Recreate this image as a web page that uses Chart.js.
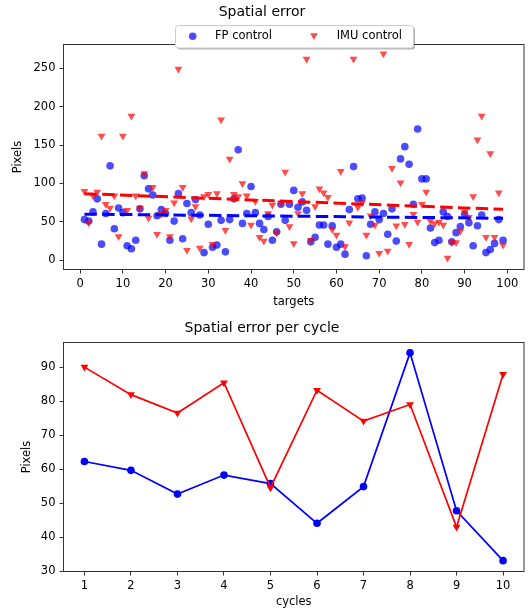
<!DOCTYPE html>
<html>
<head>
<meta charset="utf-8">
<script src="https://cdn.jsdelivr.net/npm/chart.js@4.4.0/dist/chart.umd.min.js"></script>
<style>
  html, body { margin: 0; padding: 0; background: #fff; }
  #wrap { position: relative; width: 531px; height: 608px; }
  #topChart { position: absolute; left: 0; top: 0; }
  #bottomChart { position: absolute; left: 0; top: 310px; }
</style>
</head>
<body>
<div id="wrap">
  <canvas id="topChart" width="531" height="310"></canvas>
  <canvas id="bottomChart" width="531" height="298"></canvas>
</div>
<script>
// targets (x of the top plot)
const targets = [1, 2, 3, 4, 5, 6, 7, 8, 9, 10, 11, 12, 13, 14, 15, 16, 17, 18, 19, 20,
  21, 22, 23, 24, 25, 26, 27, 28, 29, 30, 31, 32, 33, 34, 35, 36, 37, 38, 39, 40,
  41, 42, 43, 44, 45, 46, 47, 48, 49, 50, 51, 52, 53, 54, 55, 56, 57, 58, 59, 60,
  61, 62, 63, 64, 65, 66, 67, 68, 69, 70, 71, 72, 73, 74, 75, 76, 77, 78, 79, 80,
  81, 82, 83, 84, 85, 86, 87, 88, 89, 90, 91, 92, 93, 94, 95, 96, 97, 98, 99];

// spatial error per target (pixels)
const fpError = [53, 51, 63, 80, 21, 61, 123, 41, 68, 62,
  19, 15, 26, 67, 110, 93, 85, 58, 66, 61,
  26, 51, 87, 28, 74, 62, 79, 59, 10, 47,
  17, 20, 52, 11, 53, 80, 144, 48, 61, 96,
  62, 48, 40, 57, 26, 37, 73, 52, 73, 91,
  69, 76, 65, 24, 30, 46, 46, 21, 45, 17,
  21, 8, 66, 122, 80, 81, 6, 47, 63, 53,
  61, 34, 67, 25, 132, 148, 125, 73, 171, 106,
  106, 42, 23, 26, 63, 57, 24, 36, 44, 60,
  49, 19, 45, 59, 10, 14, 22, 53, 26];

const imuError = [90, 49, 84, 89, 162, 73, 68, 84, 31, 162,
  65, 188, 84, 68, 113, 55, 95, 34, 60, 65,
  31, 75, 249, 95, 13, 54, 70, 16, 83, 86,
  21, 87, 183, 39, 132, 86, 83, 100, 84, 46,
  77, 30, 25, 61, 72, 36, 75, 115, 44, 22,
  61, 87, 262, 26, 70, 93, 88, 82, 40, 33,
  116, 18, 49, 262, 69, 75, 33, 58, 46, 9,
  269, 12, 120, 45, 101, 47, 21, 60, 50, 73,
  89, 51, 48, 50, 46, 3, 23, 23, 38, 63,
  56, 83, 157, 188, 30, 139, 30, 88, 20];

// dashed trend lines (end points)
const trendX = [1, 99];
const fpTrend = [60.1, 54.7];
const imuTrend = [86.7, 66.3];

// per cycle means
const cycles = [1, 2, 3, 4, 5, 6, 7, 8, 9, 10];
const fpCycle = [62.3, 59.7, 52.7, 58.3, 55.8, 44.1, 54.9, 94.3, 47.8, 33.1];
const imuCycle = [90.1, 82.0, 76.6, 85.5, 54.6, 83.3, 74.2, 79.1, 43.0, 88.0];

// tick labels
const topXTicks = [0, 10, 20, 30, 40, 50, 60, 70, 80, 90, 100];
const topYTicks = [0, 50, 100, 150, 200, 250];
const bottomXTicks = [1, 2, 3, 4, 5, 6, 7, 8, 9, 10];
const bottomYTicks = [30, 40, 50, 60, 70, 80, 90];

const FONT = 'DejaVu Sans';
Chart.defaults.font.family = FONT;
Chart.defaults.color = '#000';

const pts = (xs, ys) => xs.map((x, i) => ({ x: x, y: ys[i] }));

// matplotlib-like box around the axes
const framePlugin = {
  id: 'frame',
  afterDatasetsDraw(chart) {
    const { ctx, chartArea: a } = chart;
    ctx.save();
    ctx.strokeStyle = '#333';
    ctx.lineWidth = 1;
    ctx.strokeRect(a.left, a.top, a.right - a.left, a.bottom - a.top);
    ctx.restore();
  }
};

// legend with shadow, overlapping the top of the axes
const legendPlugin = {
  id: 'mplLegend',
  afterDraw(chart) {
    const ctx = chart.ctx;
    const bx = 175, by = 25, bw = 238, bh = 22.5, r = 3;
    ctx.save();
    ctx.fillStyle = 'rgba(0,0,0,0.3)';
    ctx.beginPath();
    ctx.roundRect(bx + 2, by + 2, bw, bh, r);
    ctx.fill();
    ctx.fillStyle = '#fff';
    ctx.strokeStyle = '#ccc';
    ctx.lineWidth = 1;
    ctx.beginPath();
    ctx.roundRect(bx + 0.5, by + 0.5, bw, bh, r);
    ctx.fill();
    ctx.stroke();

    ctx.fillStyle = 'rgba(0,0,255,0.7)';
    Chart.helpers.drawPoint(ctx, { pointStyle: 'circle', radius: 3.8, rotation: 0, borderWidth: 0 }, 192.7, 36.3);
    ctx.fillStyle = 'rgba(255,0,0,0.7)';
    Chart.helpers.drawPoint(ctx, { pointStyle: 'triangle', radius: 4.5, rotation: 180, borderWidth: 0 }, 314, 35.5);

    ctx.fillStyle = '#000';
    ctx.font = '11.5px "' + FONT + '"';
    ctx.textBaseline = 'middle';
    ctx.textAlign = 'left';
    ctx.fillText('FP control', 215, 36.3);
    ctx.fillText('IMU control', 336.7, 36.3);
    ctx.restore();
  }
};

const tickFont = { family: FONT, size: 11.5 };
const labelFont = { family: FONT, size: 11.5, lineHeight: 1 };
const titleFont = { family: FONT, size: 14, weight: 'normal', lineHeight: 1.2 };

function axisGrid() {
  return { drawOnChartArea: false, drawTicks: true, tickLength: 4, color: '#333', lineWidth: 1 };
}

new Chart(document.getElementById('topChart'), {
  type: 'scatter',
  data: {
    datasets: [
      {
        type: 'line', data: pts(trendX, fpTrend), borderColor: 'blue', borderWidth: 3,
        borderDash: [12.4, 5.4], pointRadius: 0, fill: false
      },
      {
        type: 'line', data: pts(trendX, imuTrend), borderColor: 'red', borderWidth: 3,
        borderDash: [12.4, 5.4], pointRadius: 0, fill: false
      },
      {
        label: 'IMU control', data: pts(targets, imuError),
        pointStyle: 'triangle', pointRotation: 180, pointRadius: 4.5,
        pointBackgroundColor: 'rgba(255,0,0,0.7)', pointBorderWidth: 0
      },
      {
        label: 'FP control', data: pts(targets, fpError),
        pointStyle: 'circle', pointRadius: 3.8,
        pointBackgroundColor: 'rgba(0,0,255,0.7)', pointBorderWidth: 0
      }
    ]
  },
  options: {
    responsive: false,
    animation: false,
    layout: { padding: { left: 0, right: 7, top: 0, bottom: 0 } },
    plugins: {
      legend: { display: false },
      tooltip: { enabled: false },
      title: {
        display: true, text: 'Spatial error', font: titleFont, color: '#000',
        padding: { top: 4, bottom: 23.7 }
      }
    },
    scales: {
      x: {
        type: 'linear', min: -3.9, max: 103.9,
        afterBuildTicks: s => { s.ticks = topXTicks.map(v => ({ value: v })); },
        afterFit: s => { s.height = 40.5; },
        ticks: { font: tickFont, padding: 3.3, maxRotation: 0, callback: v => String(v) },
        grid: axisGrid(),
        border: { display: false },
        title: { display: true, text: 'targets', font: labelFont, padding: { top: 0, bottom: 2.7 } }
      },
      y: {
        type: 'linear', min: -12.0, max: 281.0,
        afterBuildTicks: s => { s.ticks = topYTicks.map(v => ({ value: v })); },
        afterFit: s => { s.width = 63.5; },
        ticks: { font: tickFont, padding: 4, callback: v => String(v) },
        grid: axisGrid(),
        border: { display: false },
        title: { display: true, text: 'Pixels', font: labelFont, padding: { top: 12.2, bottom: 0 } }
      }
    }
  },
  plugins: [framePlugin, legendPlugin]
});

new Chart(document.getElementById('bottomChart'), {
  type: 'line',
  data: {
    datasets: [
      {
        label: 'IMU control', data: pts(cycles, imuCycle),
        borderColor: 'red', borderWidth: 1.7, fill: false,
        pointStyle: 'triangle', pointRotation: 180, pointRadius: 4.5,
        pointBackgroundColor: 'red', pointBorderWidth: 0
      },
      {
        label: 'FP control', data: pts(cycles, fpCycle),
        borderColor: 'blue', borderWidth: 1.7, fill: false,
        pointStyle: 'circle', pointRadius: 3.8,
        pointBackgroundColor: 'blue', pointBorderWidth: 0
      }
    ]
  },
  options: {
    responsive: false,
    animation: false,
    layout: { padding: { left: 0, right: 7, top: 0, bottom: 0 } },
    plugins: {
      legend: { display: false },
      tooltip: { enabled: false },
      title: {
        display: true, text: 'Spatial error per cycle', font: titleFont, color: '#000',
        padding: { top: 10.3, bottom: 5.4 }
      }
    },
    scales: {
      x: {
        type: 'linear', min: 0.55, max: 10.45,
        afterBuildTicks: s => { s.ticks = bottomXTicks.map(v => ({ value: v })); },
        afterFit: s => { s.height = 36.5; },
        ticks: { font: tickFont, padding: 3.3, maxRotation: 0, callback: v => String(v) },
        grid: axisGrid(),
        border: { display: false },
        title: { display: true, text: 'cycles', font: labelFont, padding: { top: 0, bottom: 0 } }
      },
      y: {
        type: 'linear', min: 29.9, max: 97.35,
        afterBuildTicks: s => { s.ticks = bottomYTicks.map(v => ({ value: v })); },
        afterFit: s => { s.width = 63.5; },
        ticks: { font: tickFont, padding: 4, callback: v => String(v) },
        grid: axisGrid(),
        border: { display: false },
        title: { display: true, text: 'Pixels', font: labelFont, padding: { top: 21.4, bottom: 0 } }
      }
    }
  },
  plugins: [framePlugin]
});
</script>
</body>
</html>
